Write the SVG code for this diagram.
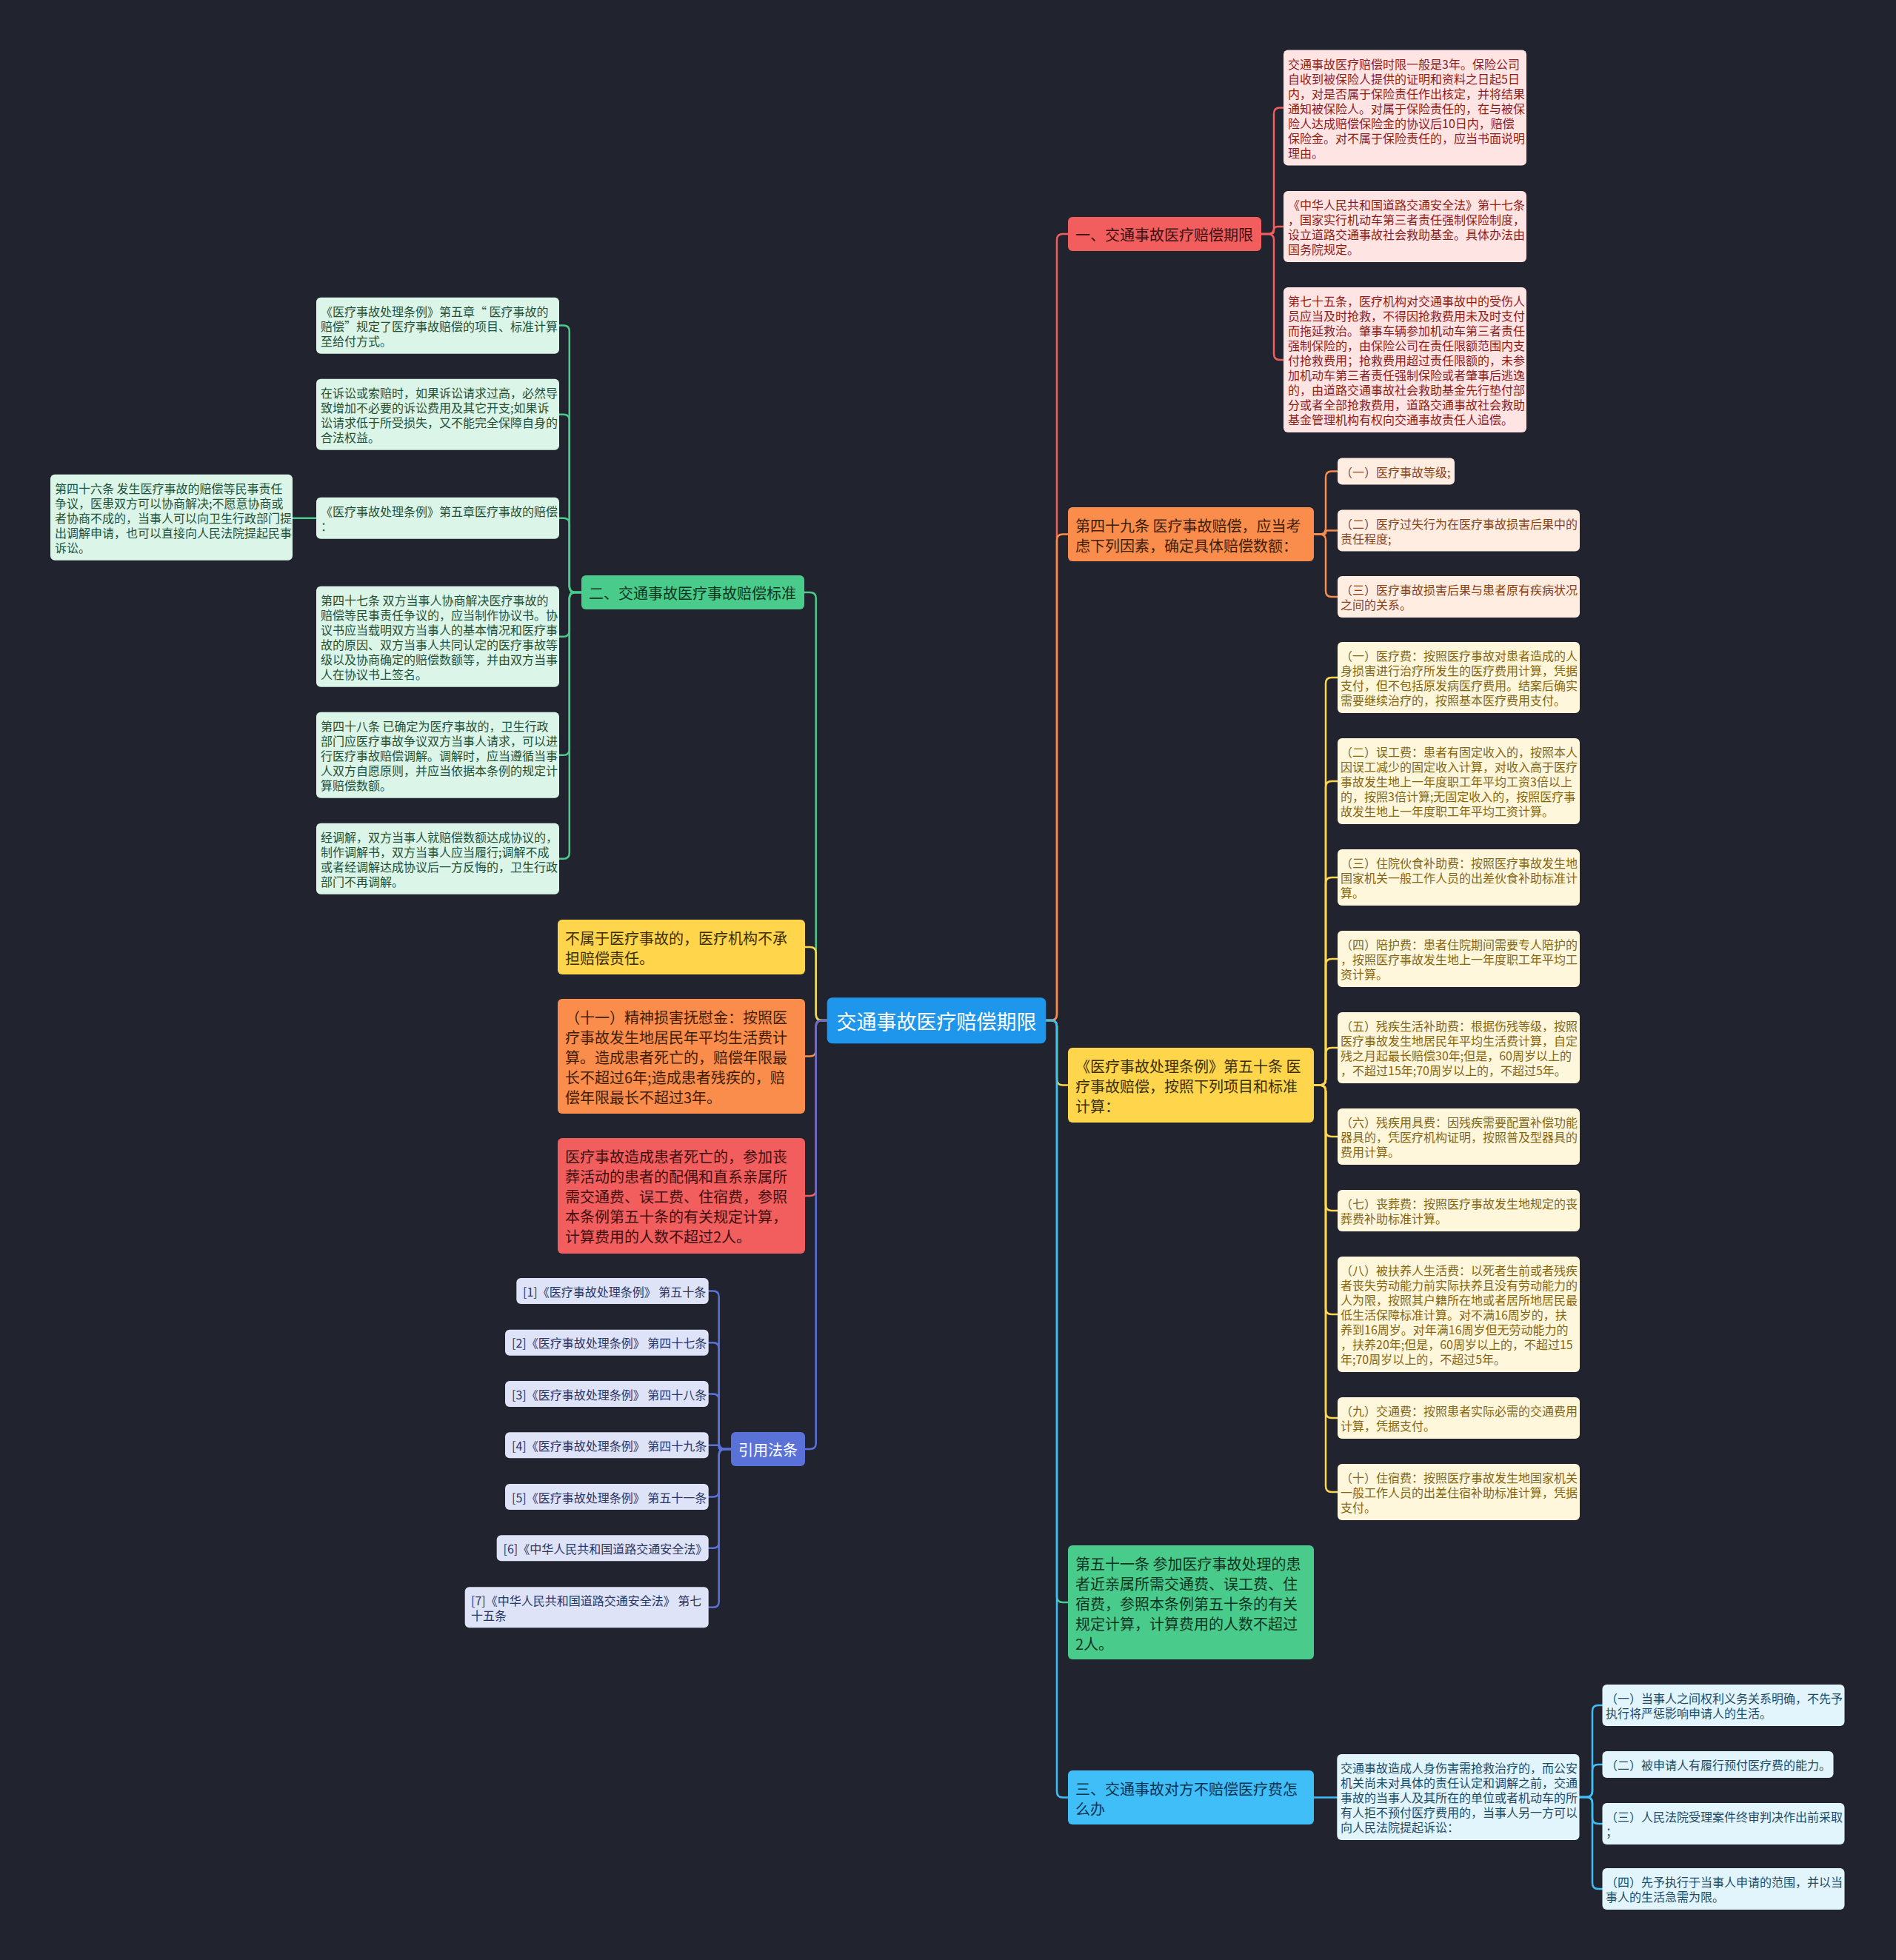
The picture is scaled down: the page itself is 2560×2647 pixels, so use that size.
<svg xmlns="http://www.w3.org/2000/svg" width="2560" height="2647" viewBox="0 0 2560 2647">
<style>
text{font-family:"Noto Sans CJK SC","Noto Sans",sans-serif;dominant-baseline:central}
.s{font-size:16px}
.m{font-size:20px}
.c{fill:none;stroke-width:2.5;stroke-linecap:round}
.cr{stroke:#F25D5D}.co{stroke:#FA8D4B}.cy{stroke:#FFD54C}.cg{stroke:#48CB8B}.cb{stroke:#3FBEF7}.cp{stroke:#5A72D8}
.r2{fill:#F25D5D}.o2{fill:#FA8D4B}.y2{fill:#FFD54C}.g2{fill:#48CB8B}.b2{fill:#3FBEF7}.p2{fill:#5A72D8}
.r3{fill:#FFE4E4}.o3{fill:#FFEDE2}.y3{fill:#FFF7DC}.g3{fill:#DCF5E9}.b3{fill:#E2F5FD}.p3{fill:#DEE3F8}
.tr2{fill:#3d1111}.to2{fill:#3f1d05}.ty2{fill:#3a2e00}.tg2{fill:#0f3521}.tb2{fill:#0a3350}.tw{fill:#ffffff}
.tr3{fill:#8B1C1C}.to3{fill:#8A4113}.ty3{fill:#86660f}.tg3{fill:#1F5139}.tb3{fill:#1E4A66}.tp3{fill:#2B3566}
</style>
<rect width="2560" height="2647" fill="#21232F"/>
<g id="connectors">
<path class="c cr" d="M1412.3 1378 H1419 Q1427 1378 1427 1370 V324 Q1427 316 1435 316 H1442"/>
<path class="c co" d="M1412.3 1378 H1419 Q1427 1378 1427 1370 V729.5 Q1427 721.5 1435 721.5 H1442"/>
<path class="c cy" d="M1412.3 1378 H1419 Q1427 1378 1427 1386 V1457.5 Q1427 1465.5 1435 1465.5 H1442"/>
<path class="c cg" d="M1412.3 1378 H1419 Q1427 1378 1427 1386 V2156 Q1427 2164 1435 2164 H1442"/>
<path class="c cb" d="M1412.3 1378 H1419 Q1427 1378 1427 1386 V2419.5 Q1427 2427.5 1435 2427.5 H1442"/>
<path class="c cr" d="M1703 316 H1712 Q1720 316 1720 308 V153.6 Q1720 145.6 1728 145.6 H1733"/>
<path class="c cr" d="M1703 316 H1715 Q1720 316 1720 311 Q1720 306 1725 306 H1733"/>
<path class="c cr" d="M1703 316 H1712 Q1720 316 1720 324 V478 Q1720 486 1728 486 H1733"/>
<path class="c co" d="M1774 721.5 H1782 Q1790 721.5 1790 713.5 V644.6 Q1790 636.6 1798 636.6 H1806"/>
<path class="c co" d="M1774 721.5 H1787.5 Q1790 721.5 1790 719 Q1790 716.6 1792.5 716.6 H1806"/>
<path class="c co" d="M1774 721.5 H1782 Q1790 721.5 1790 729.5 V798 Q1790 806 1798 806 H1806"/>
<path class="c cy" d="M1774 1465.5 H1782 Q1790 1465.5 1790 1457.5 V923 Q1790 915 1798 915 H1806"/>
<path class="c cy" d="M1774 1465.5 H1782 Q1790 1465.5 1790 1457.5 V1063 Q1790 1055 1798 1055 H1806"/>
<path class="c cy" d="M1774 1465.5 H1782 Q1790 1465.5 1790 1457.5 V1193 Q1790 1185 1798 1185 H1806"/>
<path class="c cy" d="M1774 1465.5 H1782 Q1790 1465.5 1790 1457.5 V1303 Q1790 1295 1798 1295 H1806"/>
<path class="c cy" d="M1774 1465.5 H1782 Q1790 1465.5 1790 1457.5 V1423 Q1790 1415 1798 1415 H1806"/>
<path class="c cy" d="M1774 1465.5 H1782 Q1790 1465.5 1790 1473.5 V1527 Q1790 1535 1798 1535 H1806"/>
<path class="c cy" d="M1774 1465.5 H1782 Q1790 1465.5 1790 1473.5 V1627 Q1790 1635 1798 1635 H1806"/>
<path class="c cy" d="M1774 1465.5 H1782 Q1790 1465.5 1790 1473.5 V1767 Q1790 1775 1798 1775 H1806"/>
<path class="c cy" d="M1774 1465.5 H1782 Q1790 1465.5 1790 1473.5 V1907 Q1790 1915 1798 1915 H1806"/>
<path class="c cy" d="M1774 1465.5 H1782 Q1790 1465.5 1790 1473.5 V2007 Q1790 2015 1798 2015 H1806"/>
<path class="c cb" d="M1774 2427.5 H1805.3"/>
<path class="c cb" d="M2132.5 2427 H2142 Q2150 2427 2150 2419 V2311 Q2150 2303 2158 2303 H2163.5"/>
<path class="c cb" d="M2132.5 2427 H2142 Q2150 2427 2150 2419 V2391 Q2150 2383 2158 2383 H2163.5"/>
<path class="c cb" d="M2132.5 2427 H2142 Q2150 2427 2150 2435 V2455 Q2150 2463 2158 2463 H2163.5"/>
<path class="c cb" d="M2132.5 2427 H2142 Q2150 2427 2150 2435 V2543 Q2150 2551 2158 2551 H2163.5"/>
<path class="c cg" d="M1116.7 1378 H1109.7 Q1101.7 1378 1101.7 1370 V808 Q1101.7 800 1093.7 800 H1086"/>
<path class="c cy" d="M1116.7 1378 H1109.7 Q1101.7 1378 1101.7 1370 V1287 Q1101.7 1279 1093.7 1279 H1087"/>
<path class="c co" d="M1116.7 1378 H1109.7 Q1101.7 1378 1101.7 1386 V1418.5 Q1101.7 1426.5 1093.7 1426.5 H1087"/>
<path class="c cr" d="M1116.7 1378 H1109.7 Q1101.7 1378 1101.7 1386 V1607 Q1101.7 1615 1093.7 1615 H1087"/>
<path class="c cp" d="M1116.7 1378 H1109.7 Q1101.7 1378 1101.7 1386 V1949 Q1101.7 1957 1093.7 1957 H1087"/>
<path class="c cg" d="M785 800 H776.8 Q768.8 800 768.8 792 V447.5 Q768.8 439.5 760.8 439.5 H755"/>
<path class="c cg" d="M785 800 H776.8 Q768.8 800 768.8 792 V567.7 Q768.8 559.7 760.8 559.7 H755"/>
<path class="c cg" d="M785 800 H776.8 Q768.8 800 768.8 792 V707.7 Q768.8 699.7 760.8 699.7 H755"/>
<path class="c cg" d="M785 800 H776.8 Q768.8 800 768.8 808 V851.7 Q768.8 859.7 760.8 859.7 H755"/>
<path class="c cg" d="M785 800 H776.8 Q768.8 800 768.8 808 V1011.7 Q768.8 1019.7 760.8 1019.7 H755"/>
<path class="c cg" d="M785 800 H776.8 Q768.8 800 768.8 808 V1151.7 Q768.8 1159.7 760.8 1159.7 H755"/>
<path class="c cg" d="M427 699.7 H395"/>
<path class="c cp" d="M987 1957 H978.7 Q970.7 1957 970.7 1949 V1751.5 Q970.7 1743.5 962.7 1743.5 H956.7"/>
<path class="c cp" d="M987 1957 H978.7 Q970.7 1957 970.7 1949 V1821.2 Q970.7 1813.2 962.7 1813.2 H956.7"/>
<path class="c cp" d="M987 1957 H978.7 Q970.7 1957 970.7 1949 V1890.5 Q970.7 1882.5 962.7 1882.5 H956.7"/>
<path class="c cp" d="M987 1957 H973.3 Q970.7 1957 970.7 1954.4 Q970.7 1951.8 968.1 1951.8 H956.7"/>
<path class="c cp" d="M987 1957 H978.7 Q970.7 1957 970.7 1965 V2013.5 Q970.7 2021.5 962.7 2021.5 H956.7"/>
<path class="c cp" d="M987 1957 H978.7 Q970.7 1957 970.7 1965 V2082.8 Q970.7 2090.8 962.7 2090.8 H956.7"/>
<path class="c cp" d="M987 1957 H978.7 Q970.7 1957 970.7 1965 V2162.8 Q970.7 2170.8 962.7 2170.8 H956.7"/>
</g>
<g id="root">
<rect x="1116.7" y="1347.3" width="295.6" height="62" rx="7" fill="#1E96EB"/>
<text x="1264.5" y="1378.3" text-anchor="middle" class="tw" style="font-size:27px">交通事故医疗赔偿期限</text>
</g>
<g id="n-r1">
<rect class="r2" x="1442" y="293" width="261" height="46" rx="6"/>
<text class="m tr2" x="1452" y="316">一、交通事故医疗赔偿期限</text>
</g>
<g id="n-r1-1">
<rect class="r3" x="1733" y="67.6" width="328" height="156" rx="6"/>
<text class="s tr3"><tspan x="1739" y="85.6">交通事故医疗赔偿时限一般是3年。保险公司</tspan><tspan x="1739" y="105.6">自收到被保险人提供的证明和资料之日起5日</tspan><tspan x="1739" y="125.6">内，对是否属于保险责任作出核定，并将结果</tspan><tspan x="1739" y="145.6">通知被保险人。对属于保险责任的，在与被保</tspan><tspan x="1739" y="165.6">险人达成赔偿保险金的协议后10日内，赔偿</tspan><tspan x="1739" y="185.6">保险金。对不属于保险责任的，应当书面说明</tspan><tspan x="1739" y="205.6">理由。</tspan></text>
</g>
<g id="n-r1-2">
<rect class="r3" x="1733" y="258" width="328" height="96" rx="6"/>
<text class="s tr3"><tspan x="1739" y="276">《中华人民共和国道路交通安全法》第十七条</tspan><tspan x="1739" y="296">，国家实行机动车第三者责任强制保险制度，</tspan><tspan x="1739" y="316">设立道路交通事故社会救助基金。具体办法由</tspan><tspan x="1739" y="336">国务院规定。</tspan></text>
</g>
<g id="n-r1-3">
<rect class="r3" x="1733" y="388" width="328" height="196" rx="6"/>
<text class="s tr3"><tspan x="1739" y="406">第七十五条，医疗机构对交通事故中的受伤人</tspan><tspan x="1739" y="426">员应当及时抢救，不得因抢救费用未及时支付</tspan><tspan x="1739" y="446">而拖延救治。肇事车辆参加机动车第三者责任</tspan><tspan x="1739" y="466">强制保险的，由保险公司在责任限额范围内支</tspan><tspan x="1739" y="486">付抢救费用；抢救费用超过责任限额的，未参</tspan><tspan x="1739" y="506">加机动车第三者责任强制保险或者肇事后逃逸</tspan><tspan x="1739" y="526">的，由道路交通事故社会救助基金先行垫付部</tspan><tspan x="1739" y="546">分或者全部抢救费用，道路交通事故社会救助</tspan><tspan x="1739" y="566">基金管理机构有权向交通事故责任人追偿。</tspan></text>
</g>
<g id="n-r2">
<rect class="o2" x="1442" y="685" width="332" height="73" rx="6"/>
<text class="m to2"><tspan x="1452" y="708.5">第四十九条 医疗事故赔偿，应当考</tspan><tspan x="1452" y="735.5">虑下列因素，确定具体赔偿数额：</tspan></text>
</g>
<g id="n-r2-1">
<rect class="o3" x="1806" y="618.6" width="158" height="36" rx="6"/>
<text class="s to3" x="1810" y="636.6">（一）医疗事故等级;</text>
</g>
<g id="n-r2-2">
<rect class="o3" x="1806" y="688.6" width="327" height="56" rx="6"/>
<text class="s to3"><tspan x="1810" y="706.6">（二）医疗过失行为在医疗事故损害后果中的</tspan><tspan x="1810" y="726.6">责任程度;</tspan></text>
</g>
<g id="n-r2-3">
<rect class="o3" x="1806" y="778" width="327" height="56" rx="6"/>
<text class="s to3"><tspan x="1810" y="796">（三）医疗事故损害后果与患者原有疾病状况</tspan><tspan x="1810" y="816">之间的关系。</tspan></text>
</g>
<g id="n-r3">
<rect class="y2" x="1442" y="1415" width="332" height="101" rx="6"/>
<text class="m ty2"><tspan x="1452" y="1438.5">《医疗事故处理条例》第五十条 医</tspan><tspan x="1452" y="1465.5">疗事故赔偿，按照下列项目和标准</tspan><tspan x="1452" y="1492.5">计算：</tspan></text>
</g>
<g id="n-r3-1">
<rect class="y3" x="1806" y="867" width="327" height="96" rx="6"/>
<text class="s ty3"><tspan x="1810" y="885">（一）医疗费：按照医疗事故对患者造成的人</tspan><tspan x="1810" y="905">身损害进行治疗所发生的医疗费用计算，凭据</tspan><tspan x="1810" y="925">支付，但不包括原发病医疗费用。结案后确实</tspan><tspan x="1810" y="945">需要继续治疗的，按照基本医疗费用支付。</tspan></text>
</g>
<g id="n-r3-2">
<rect class="y3" x="1806" y="997" width="327" height="116" rx="6"/>
<text class="s ty3"><tspan x="1810" y="1015">（二）误工费：患者有固定收入的，按照本人</tspan><tspan x="1810" y="1035">因误工减少的固定收入计算，对收入高于医疗</tspan><tspan x="1810" y="1055">事故发生地上一年度职工年平均工资3倍以上</tspan><tspan x="1810" y="1075">的，按照3倍计算;无固定收入的，按照医疗事</tspan><tspan x="1810" y="1095">故发生地上一年度职工年平均工资计算。</tspan></text>
</g>
<g id="n-r3-3">
<rect class="y3" x="1806" y="1147" width="327" height="76" rx="6"/>
<text class="s ty3"><tspan x="1810" y="1165">（三）住院伙食补助费：按照医疗事故发生地</tspan><tspan x="1810" y="1185">国家机关一般工作人员的出差伙食补助标准计</tspan><tspan x="1810" y="1205">算。</tspan></text>
</g>
<g id="n-r3-4">
<rect class="y3" x="1806" y="1257" width="327" height="76" rx="6"/>
<text class="s ty3"><tspan x="1810" y="1275">（四）陪护费：患者住院期间需要专人陪护的</tspan><tspan x="1810" y="1295">，按照医疗事故发生地上一年度职工年平均工</tspan><tspan x="1810" y="1315">资计算。</tspan></text>
</g>
<g id="n-r3-5">
<rect class="y3" x="1806" y="1367" width="327" height="96" rx="6"/>
<text class="s ty3"><tspan x="1810" y="1385">（五）残疾生活补助费：根据伤残等级，按照</tspan><tspan x="1810" y="1405">医疗事故发生地居民年平均生活费计算，自定</tspan><tspan x="1810" y="1425">残之月起最长赔偿30年;但是，60周岁以上的</tspan><tspan x="1810" y="1445">，不超过15年;70周岁以上的，不超过5年。</tspan></text>
</g>
<g id="n-r3-6">
<rect class="y3" x="1806" y="1497" width="327" height="76" rx="6"/>
<text class="s ty3"><tspan x="1810" y="1515">（六）残疾用具费：因残疾需要配置补偿功能</tspan><tspan x="1810" y="1535">器具的，凭医疗机构证明，按照普及型器具的</tspan><tspan x="1810" y="1555">费用计算。</tspan></text>
</g>
<g id="n-r3-7">
<rect class="y3" x="1806" y="1607" width="327" height="56" rx="6"/>
<text class="s ty3"><tspan x="1810" y="1625">（七）丧葬费：按照医疗事故发生地规定的丧</tspan><tspan x="1810" y="1645">葬费补助标准计算。</tspan></text>
</g>
<g id="n-r3-8">
<rect class="y3" x="1806" y="1697" width="327" height="156" rx="6"/>
<text class="s ty3"><tspan x="1810" y="1715">（八）被扶养人生活费：以死者生前或者残疾</tspan><tspan x="1810" y="1735">者丧失劳动能力前实际扶养且没有劳动能力的</tspan><tspan x="1810" y="1755">人为限，按照其户籍所在地或者居所地居民最</tspan><tspan x="1810" y="1775">低生活保障标准计算。对不满16周岁的，扶</tspan><tspan x="1810" y="1795">养到16周岁。对年满16周岁但无劳动能力的</tspan><tspan x="1810" y="1815">，扶养20年;但是，60周岁以上的，不超过15</tspan><tspan x="1810" y="1835">年;70周岁以上的，不超过5年。</tspan></text>
</g>
<g id="n-r3-9">
<rect class="y3" x="1806" y="1887" width="327" height="56" rx="6"/>
<text class="s ty3"><tspan x="1810" y="1905">（九）交通费：按照患者实际必需的交通费用</tspan><tspan x="1810" y="1925">计算，凭据支付。</tspan></text>
</g>
<g id="n-r3-10">
<rect class="y3" x="1806" y="1977" width="327" height="76" rx="6"/>
<text class="s ty3"><tspan x="1810" y="1995">（十）住宿费：按照医疗事故发生地国家机关</tspan><tspan x="1810" y="2015">一般工作人员的出差住宿补助标准计算，凭据</tspan><tspan x="1810" y="2035">支付。</tspan></text>
</g>
<g id="n-r4">
<rect class="g2" x="1442" y="2087" width="332" height="154" rx="6"/>
<text class="m tg2"><tspan x="1452" y="2110.5">第五十一条 参加医疗事故处理的患</tspan><tspan x="1452" y="2137.5">者近亲属所需交通费、误工费、住</tspan><tspan x="1452" y="2164.5">宿费，参照本条例第五十条的有关</tspan><tspan x="1452" y="2191.5">规定计算，计算费用的人数不超过</tspan><tspan x="1452" y="2218.5">2人。</tspan></text>
</g>
<g id="n-r5">
<rect class="b2" x="1442" y="2391" width="332" height="73" rx="6"/>
<text class="m tb2"><tspan x="1452" y="2414.5">三、交通事故对方不赔偿医疗费怎</tspan><tspan x="1452" y="2441.5">么办</tspan></text>
</g>
<g id="n-r5-1">
<rect class="b3" x="1805.3" y="2369" width="327.2" height="116" rx="6"/>
<text class="s tb3"><tspan x="1810" y="2387">交通事故造成人身伤害需抢救治疗的，而公安</tspan><tspan x="1810" y="2407">机关尚未对具体的责任认定和调解之前，交通</tspan><tspan x="1810" y="2427">事故的当事人及其所在的单位或者机动车的所</tspan><tspan x="1810" y="2447">有人拒不预付医疗费用的，当事人另一方可以</tspan><tspan x="1810" y="2467">向人民法院提起诉讼：</tspan></text>
</g>
<g id="n-r5-1-1">
<rect class="b3" x="2163.5" y="2275" width="327" height="56" rx="6"/>
<text class="s tb3"><tspan x="2168" y="2293">（一）当事人之间权利义务关系明确，不先予</tspan><tspan x="2168" y="2313">执行将严惩影响申请人的生活。</tspan></text>
</g>
<g id="n-r5-1-2">
<rect class="b3" x="2163.5" y="2365" width="312" height="36" rx="6"/>
<text class="s tb3" x="2168" y="2383">（二）被申请人有履行预付医疗费的能力。</text>
</g>
<g id="n-r5-1-3">
<rect class="b3" x="2163.5" y="2435" width="327" height="56" rx="6"/>
<text class="s tb3"><tspan x="2168" y="2453">（三）人民法院受理案件终审判决作出前采取</tspan><tspan x="2168" y="2473">；</tspan></text>
</g>
<g id="n-r5-1-4">
<rect class="b3" x="2163.5" y="2523" width="327" height="56" rx="6"/>
<text class="s tb3"><tspan x="2168" y="2541">（四）先予执行于当事人申请的范围，并以当</tspan><tspan x="2168" y="2561">事人的生活急需为限。</tspan></text>
</g>
<g id="n-l1">
<rect class="g2" x="785" y="777" width="301" height="46" rx="6"/>
<text class="m tg2" x="795" y="800">二、交通事故医疗事故赔偿标准</text>
</g>
<g id="n-l1-1">
<rect class="g3" x="427" y="401.7" width="328" height="76" rx="6"/>
<text class="s tg3"><tspan x="433" y="419.7">《医疗事故处理条例》第五章“ 医疗事故的</tspan><tspan x="433" y="439.7">赔偿”规定了医疗事故赔偿的项目、标准计算</tspan><tspan x="433" y="459.7">至给付方式。</tspan></text>
</g>
<g id="n-l1-2">
<rect class="g3" x="427" y="511.7" width="328" height="96" rx="6"/>
<text class="s tg3"><tspan x="433" y="529.7">在诉讼或索赔时，如果诉讼请求过高，必然导</tspan><tspan x="433" y="549.7">致增加不必要的诉讼费用及其它开支;如果诉</tspan><tspan x="433" y="569.7">讼请求低于所受损失，又不能完全保障自身的</tspan><tspan x="433" y="589.7">合法权益。</tspan></text>
</g>
<g id="n-l1-3">
<rect class="g3" x="427" y="671.7" width="328" height="56" rx="6"/>
<text class="s tg3"><tspan x="433" y="689.7">《医疗事故处理条例》第五章医疗事故的赔偿</tspan><tspan x="433" y="709.7">：</tspan></text>
</g>
<g id="n-l1-3-1">
<rect class="g3" x="68" y="640.7" width="327" height="116" rx="6"/>
<text class="s tg3"><tspan x="74" y="658.7">第四十六条 发生医疗事故的赔偿等民事责任</tspan><tspan x="74" y="678.7">争议，医患双方可以协商解决;不愿意协商或</tspan><tspan x="74" y="698.7">者协商不成的，当事人可以向卫生行政部门提</tspan><tspan x="74" y="718.7">出调解申请，也可以直接向人民法院提起民事</tspan><tspan x="74" y="738.7">诉讼。</tspan></text>
</g>
<g id="n-l1-4">
<rect class="g3" x="427" y="791.7" width="328" height="136" rx="6"/>
<text class="s tg3"><tspan x="433" y="809.7">第四十七条 双方当事人协商解决医疗事故的</tspan><tspan x="433" y="829.7">赔偿等民事责任争议的，应当制作协议书。协</tspan><tspan x="433" y="849.7">议书应当载明双方当事人的基本情况和医疗事</tspan><tspan x="433" y="869.7">故的原因、双方当事人共同认定的医疗事故等</tspan><tspan x="433" y="889.7">级以及协商确定的赔偿数额等，并由双方当事</tspan><tspan x="433" y="909.7">人在协议书上签名。</tspan></text>
</g>
<g id="n-l1-5">
<rect class="g3" x="427" y="961.7" width="328" height="116" rx="6"/>
<text class="s tg3"><tspan x="433" y="979.7">第四十八条 已确定为医疗事故的，卫生行政</tspan><tspan x="433" y="999.7">部门应医疗事故争议双方当事人请求，可以进</tspan><tspan x="433" y="1019.7">行医疗事故赔偿调解。调解时，应当遵循当事</tspan><tspan x="433" y="1039.7">人双方自愿原则，并应当依据本条例的规定计</tspan><tspan x="433" y="1059.7">算赔偿数额。</tspan></text>
</g>
<g id="n-l1-6">
<rect class="g3" x="427" y="1111.7" width="328" height="96" rx="6"/>
<text class="s tg3"><tspan x="433" y="1129.7">经调解，双方当事人就赔偿数额达成协议的，</tspan><tspan x="433" y="1149.7">制作调解书，双方当事人应当履行;调解不成</tspan><tspan x="433" y="1169.7">或者经调解达成协议后一方反悔的，卫生行政</tspan><tspan x="433" y="1189.7">部门不再调解。</tspan></text>
</g>
<g id="n-l2">
<rect class="y2" x="753" y="1242" width="334" height="74" rx="6"/>
<text class="m ty2"><tspan x="763" y="1265.5">不属于医疗事故的，医疗机构不承</tspan><tspan x="763" y="1292.5">担赔偿责任。</tspan></text>
</g>
<g id="n-l3">
<rect class="o2" x="753" y="1349" width="334" height="155" rx="6"/>
<text class="m to2"><tspan x="763" y="1372.5">（十一）精神损害抚慰金：按照医</tspan><tspan x="763" y="1399.5">疗事故发生地居民年平均生活费计</tspan><tspan x="763" y="1426.5">算。造成患者死亡的，赔偿年限最</tspan><tspan x="763" y="1453.5">长不超过6年;造成患者残疾的，赔</tspan><tspan x="763" y="1480.5">偿年限最长不超过3年。</tspan></text>
</g>
<g id="n-l4">
<rect class="r2" x="753" y="1537" width="334" height="156" rx="6"/>
<text class="m tr2"><tspan x="763" y="1560.5">医疗事故造成患者死亡的，参加丧</tspan><tspan x="763" y="1587.5">葬活动的患者的配偶和直系亲属所</tspan><tspan x="763" y="1614.5">需交通费、误工费、住宿费，参照</tspan><tspan x="763" y="1641.5">本条例第五十条的有关规定计算，</tspan><tspan x="763" y="1668.5">计算费用的人数不超过2人。</tspan></text>
</g>
<g id="n-l5">
<rect class="p2" x="987" y="1934" width="100" height="46" rx="6"/>
<text class="m tw" x="1037" y="1957" text-anchor="middle">引用法条</text>
</g>
<g id="n-l5-1">
<rect class="p3" x="697.3" y="1726" width="259.4" height="35" rx="6"/>
<text class="s tp3" x="706" y="1743.5">[1]《医疗事故处理条例》 第五十条</text>
</g>
<g id="n-l5-2">
<rect class="p3" x="682" y="1795.7" width="274.7" height="35" rx="6"/>
<text class="s tp3" x="691" y="1813.2">[2]《医疗事故处理条例》 第四十七条</text>
</g>
<g id="n-l5-3">
<rect class="p3" x="682" y="1865" width="274.7" height="35" rx="6"/>
<text class="s tp3" x="691" y="1882.5">[3]《医疗事故处理条例》 第四十八条</text>
</g>
<g id="n-l5-4">
<rect class="p3" x="682" y="1934.3" width="274.7" height="35" rx="6"/>
<text class="s tp3" x="691" y="1951.8">[4]《医疗事故处理条例》 第四十九条</text>
</g>
<g id="n-l5-5">
<rect class="p3" x="682" y="2004" width="274.7" height="35" rx="6"/>
<text class="s tp3" x="691" y="2021.5">[5]《医疗事故处理条例》 第五十一条</text>
</g>
<g id="n-l5-6">
<rect class="p3" x="670.7" y="2073.3" width="286" height="35" rx="6"/>
<text class="s tp3" x="679.5" y="2090.8">[6]《中华人民共和国道路交通安全法》</text>
</g>
<g id="n-l5-7">
<rect class="p3" x="627.7" y="2143.3" width="329" height="55" rx="6"/>
<text class="s tp3"><tspan x="636" y="2160.8">[7]《中华人民共和国道路交通安全法》 第七</tspan><tspan x="636" y="2180.8">十五条</tspan></text>
</g>
</svg>
